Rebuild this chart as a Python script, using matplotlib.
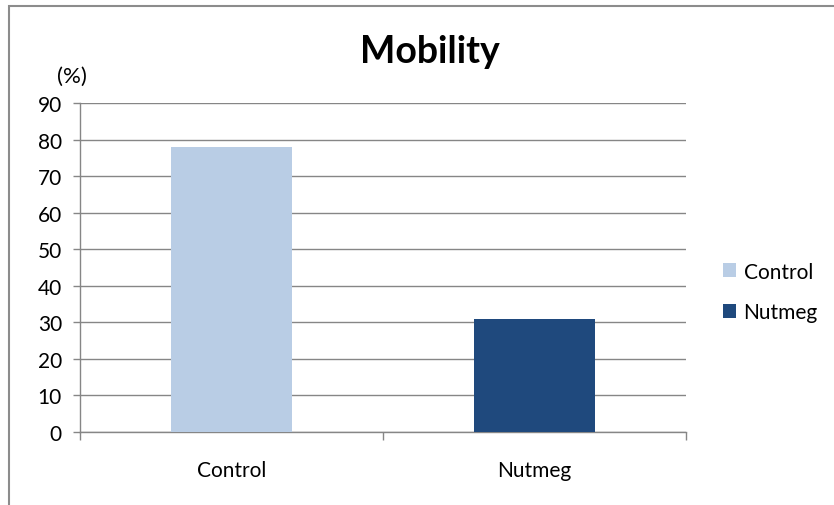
import matplotlib
matplotlib.use("Agg")
import matplotlib.pyplot as plt
from matplotlib.patches import Rectangle, Patch

plt.rcParams['font.family'] = ['Lato', 'DejaVu Sans']

categories = ["Control", "Nutmeg"]
values = [78, 31]
colors = ["#B9CDE5", "#1F497D"]
yticks = [0, 10, 20, 30, 40, 50, 60, 70, 80, 90]

W, H = 834, 506
fig = plt.figure(figsize=(W / 100, H / 100), dpi=100)

# chart frame (only top and left edges fall inside the canvas)
fig.patches.append(Rectangle((8.5 / W, -0.1), 1.2, 1 - 6.5 / H + 0.1,
                             transform=fig.transFigure, fill=False,
                             edgecolor="#8C8C8C", linewidth=1.5))

left, right, top, bottom = 80, 686, 104, 433
ax = fig.add_axes([left / W, 1 - bottom / H, (right - left) / W, (bottom - top) / H])

x = list(range(len(categories)))
ax.bar(x, values, width=0.4, color=colors, zorder=3)

ax.set_xlim(-0.5, len(categories) - 0.5)
ax.set_ylim(0, 90)
ax.set_yticks(yticks)
ax.tick_params(axis='y', length=5, width=1, color="#868686", labelsize=15,
               labelcolor="black", pad=8)
ax.yaxis.grid(True, color="#868686", linewidth=1, zorder=0)

ax.set_xticks(x)
ax.set_xticklabels(categories, fontsize=15)
ax.tick_params(axis='x', length=0, pad=20)
# category boundary ticks
ax.set_xticks([-0.5, 0.5, 1.5], minor=True)
ax.tick_params(axis='x', which='minor', length=6, width=1, color="#868686")

for s in ["top", "right"]:
    ax.spines[s].set_visible(False)
for s in ["left", "bottom"]:
    ax.spines[s].set_color("#868686")
    ax.spines[s].set_linewidth(1)

fig.text(72 / W, 1 - 77 / H, "(%)", fontsize=16, ha="center", va="center")
fig.text(430 / W, 1 - 52 / H, "Mobility", fontsize=27, fontweight="bold",
         ha="center", va="center")

handles = [Patch(facecolor=c, edgecolor="none") for c in colors]
fig.legend(handles, categories, loc="center left",
           bbox_to_anchor=(704 / W, 1 - 293 / H), frameon=False,
           fontsize=15, handlelength=0.65, handleheight=0.65,
           handletextpad=0.35, labelspacing=1.0)

fig.savefig("out.png", dpi=100)
